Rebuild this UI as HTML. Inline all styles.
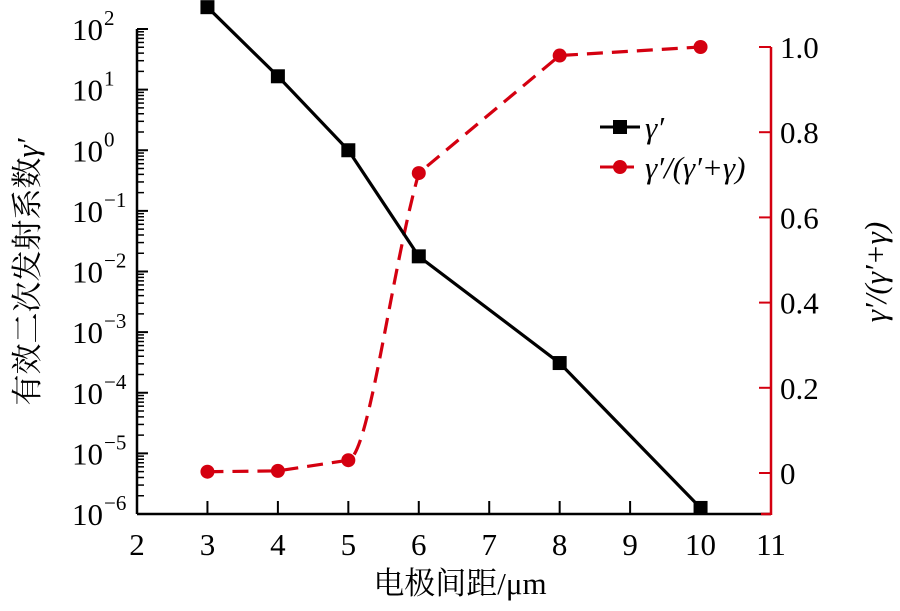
<!DOCTYPE html>
<html><head><meta charset="utf-8"><style>
body{margin:0;background:#fff}
svg{display:block;font-family:"Liberation Serif","Noto Serif CJK SC",serif}
</style></head><body>
<svg id="c" width="900" height="611" viewBox="0 0 900 611"></svg>
<script>
const xValues=[3,4,5,6,8,10];
const gammaLog=[2.36,1.22,0,-1.75,-3.51,-5.9];
const ratioValues=[0.003,0.005,0.03,0.704,0.98,1.0];
const xTicks=[2,3,4,5,6,7,8,9,10,11];
const leftTicks=[2,1,0,-1,-2,-3,-4,-5,-6];
const rightTicks=[0,0.2,0.4,0.6,0.8,1.0];
const rightTickLabels=["0","0.2","0.4","0.6","0.8","1.0"];
const NS="http://www.w3.org/2000/svg";
const svg=document.getElementById('c');
const L=137,R=771,B=514,T=29;
const xs=v=>L+(v-2)*(R-L)/9;
const yl=v=>T+(2-v)*(B-T)/8;
const yr=v=>473-v*426;
function mk(t,a,p){const e=document.createElementNS(NS,t);for(const k in a)e.setAttribute(k,a[k]);(p||svg).appendChild(e);return e;}
let e=mk('line',{x1:L,y1:T,x2:L,y2:B,stroke:'#000','stroke-width':2.5});

e=mk('line',{x1:L,y1:B,x2:R,y2:B,stroke:'#000','stroke-width':2.5});

e=mk('line',{x1:R,y1:47,x2:R,y2:B+1,stroke:'#d40010','stroke-width':2.5});

mk('line',{x1:R-10,y1:B,x2:R,y2:B,stroke:'#d40010','stroke-width':2.5});
xTicks.forEach(v=>{const x=xs(v);
 if(v>2&&v<11)mk('line',{x1:x,y1:B,x2:x,y2:B-13,stroke:'#000','stroke-width':2});
 const t=mk('text',{x:x,y:555,'text-anchor':'middle','font-size':31});t.textContent=v;
 });
leftTicks.forEach(v=>{const y=yl(v);
 mk('line',{x1:L,y1:y,x2:L+11,y2:y,stroke:'#000','stroke-width':2});
 if(v>-6)for(let m=2;m<10;m++){const yy=yl(v-1+Math.log10(m));mk('line',{x1:L,y1:yy,x2:L+7,y2:yy,stroke:'#000','stroke-width':1.5});}
 const t=mk('text',{x:103,y:y+11,'text-anchor':'end','font-size':31});t.textContent='10';
 
 const s=mk('text',{x:104,y:y-4,'font-size':21});s.textContent=(v<0?'\u2212':'')+Math.abs(v);});
rightTicks.forEach((v,i)=>{const y=yr(v);
 mk('line',{x1:R,y1:y,x2:R-12,y2:y,stroke:'#d40010','stroke-width':2});
 const t=mk('text',{x:780,y:y+11,'font-size':31});t.textContent=rightTickLabels[i];
 });
// red line: straight segments, curved only on steep rise
const px=xValues.map(xs),py=ratioValues.map(yr);
let d=`M${px[0]},${py[0]}`;
for(let i=1;i<px.length;i++){
 if(py[i-1]-py[i]>150){const dx=px[i]-px[i-1];d+=` C${px[i-1]+dx*0.3},${py[i-1]-5} ${px[i-1]+dx*0.6},${py[i]+ (py[i-1]-py[i])*0.35} ${px[i]},${py[i]}`;}
 else d+=` L${px[i]},${py[i]}`;}
e=mk('path',{d:d,fill:'none',stroke:'#d40010','stroke-width':3.2,'stroke-dasharray':'16 9'});

const bx=xValues.map(xs),by=gammaLog.map(yl);
e=mk('polyline',{points:bx.map((x,i)=>x+','+by[i]).join(' '),fill:'none',stroke:'#000','stroke-width':3.2});

bx.forEach((x,i)=>{const r=mk('rect',{x:x-7,y:by[i]-7,width:14,height:14,fill:'#000'});
 });
px.forEach((x,i)=>{const c=mk('circle',{cx:x,cy:py[i],r:7,fill:'#d40010'});
 });
</script>
<svg width="900" height="611" style="position:absolute;left:0;top:0">
<g>
<line x1="600" y1="127" x2="640" y2="127" stroke="#000" stroke-width="3"/>
<rect x="613" y="120" width="14" height="14" fill="#000"/>
<text x="645" y="138" font-size="31" font-style="italic" font-family="Liberation Serif,serif">γ′</text>
<line x1="600" y1="167" x2="640" y2="167" stroke="#d40010" stroke-width="3" stroke-dasharray="14 6"/>
<circle cx="620" cy="167" r="7" fill="#d40010"/>
<text x="645" y="178" font-size="31" font-style="italic" font-family="Liberation Serif,serif">γ′/(γ′+γ)</text>
</g>
<text x="460" y="594" text-anchor="middle" font-size="31" font-family="Liberation Serif,Noto Serif CJK SC,serif">电极间距/μm</text>
<text transform="translate(38,272) rotate(-90)" text-anchor="middle" font-size="31" font-family="Liberation Serif,Noto Serif CJK SC,serif">有效二次发射系数<tspan font-style="italic">γ′</tspan></text>
<text transform="translate(886,272) rotate(-90)" text-anchor="middle" font-size="31" font-style="italic" font-family="Liberation Serif,serif">γ′/(γ′+γ)</text>
</svg>
</body></html>
